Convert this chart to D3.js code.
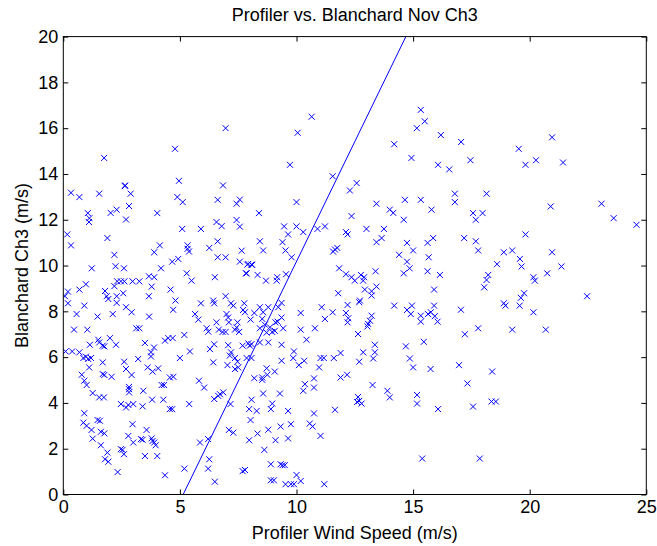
<!DOCTYPE html>
<html>
<head>
<meta charset="utf-8">
<script src="https://cdn.jsdelivr.net/npm/d3@7"></script>
<style>
  html, body { margin: 0; padding: 0; background: #fff; }
  svg text { font-family: "Liberation Sans", Arial, sans-serif; fill: #000; }
</style>
</head>
<body>
<div id="chart"></div>
<script>
// Profiler vs. Blanchard scatter, Nov Ch3. Values.

const xTicks = [0, 5, 10, 15, 20, 25];
const yTicks = [0, 2, 4, 6, 8, 10, 12, 14, 16, 18, 20];

// straight reference line, endpoints [profiler, blanchard]
const fitLine = [[5.14, 0], [14.69, 20]];

// [profiler wind speed, blanchard ch3]
const upperPts = [
  [1.75,14.7],[2.65,13.5],[4.79,15.1],[4.96,13.7],[6.96,16.0],[6.85,13.5],
  [10.65,16.5],[10.05,15.8],[9.72,14.4],[11.55,13.9],[12.58,13.6],[14.19,15.3],[15.33,16.8],[15.5,16.3],[15.16,16.0],[16.19,15.7],[14.93,14.7],[16.07,14.4],
  [17.06,15.4],[16.55,14.2],[17.46,14.6],[19.53,15.1],[19.82,14.4],[20.27,14.6],[20.96,15.6],[21.43,14.5]
];

const midLeftPts = [
  [0.33,13.18],[0.69,12.99],[1.54,13.14],[2.64,13.47],[2.89,13.14],[2.82,12.6],[2.29,12.44],[2.03,12.3],[1.05,12.29],[1.12,12.07],[1.1,11.9],[2.69,12.01],
  [4.89,12.99],[5.12,12.77],[6.62,12.87],[7.43,12.7],[7.57,12.88],[4.03,12.29],[5.1,11.6],[5.9,11.6],[6.57,11.9],[6.79,11.72],[7.43,11.99],[7.57,11.7],
  [0.17,11.36],[0.33,10.88],[1.89,11.2],[2.19,10.47],[2.24,9.97],[2.6,9.88],[1.22,9.88],[4.14,10.88],[3.9,10.58],[4.19,9.88],[4.67,10.17],[4.93,10.29],
  [5.33,10.88],[5.39,10.61],[5.33,10.73],[6.26,10.77],[6.62,11.06],[6.62,10.36],[6.96,10.36],[7.65,10.65],[7.57,10.17],[7.89,10.04],[8.07,10.04],[7.83,9.66],
  [5.29,9.66],[5.5,9.34],[6.5,9.49],[0.97,9.18],[0.69,8.95],[0.2,8.86],[0.07,8.66],[0.2,8.35],[0.57,7.88],[0.9,8.25],[1.47,7.77],[1.79,8.89],[2.19,9.1],
  [2.31,9.31],[2.47,9.31],[2.62,9.31],[2.97,9.31],[3.26,9.31],[3.67,9.53],[3.9,9.49],[3.79,9.08],[2.57,8.79],[1.86,8.66],[1.93,8.54],[2.29,8.66],[2.29,8.37],
  [2.69,8.18],[2.93,7.96],[2.12,7.88],[3.67,8.66],[4.6,8.95],[4.81,8.47],[4.71,8.07],[3.68,7.77],[5.9,8.35],[6.43,8.47],[6.47,8.35],[6.96,8.66],[7.19,8.35],
  [7.29,8.25],[7.76,8.35],[7.71,8.06],[7.79,7.96],[8.19,7.93],[5.65,7.88],[5.79,7.64],[7.0,7.88],[7.07,7.73],[7.1,7.52],[8.03,7.64],[6.57,7.52],[7.47,7.52],
  [7.43,7.3],[0.46,7.2],[1.03,7.2],[3.13,7.26],[3.26,7.26],[6.15,7.26],[6.22,7.11],[6.67,7.2],[6.83,7.1],[6.96,7.1],[7.36,7.2],[7.54,7.1]
];

const midCenterPts = [
  [12.29,13.28],[10.0,12.77],[8.39,12.29],[12.36,12.16],[13.43,12.7],[14.65,12.87],[15.33,12.87],[14.0,12.44],[14.15,12.3],[14.6,12.0],[15.79,12.44],
  [9.47,11.71],[10.0,11.71],[10.29,11.46],[9.64,11.36],[10.9,11.6],[11.22,11.71],[12.12,11.46],[12.19,11.36],[13.0,11.6],[13.75,11.6],[13.65,11.2],[13.43,11.02],
  [8.43,11.06],[8.57,10.66],[9.4,11.02],[9.53,10.66],[9.79,10.36],[11.57,10.61],[11.75,10.77],[11.65,10.7],[14.74,10.99],[15.0,10.66],[14.4,10.47],[15.62,10.99],
  [15.86,11.2],[15.67,10.36],[14.74,10.17],[14.85,9.88],[14.6,9.66],[15.62,9.75],[16.15,9.59],[15.9,8.95],[7.93,10.07],[8.1,10.03],[7.86,9.66],[8.33,9.59],
  [8.69,9.34],[9.17,9.49],[9.15,9.34],[9.55,9.62],[11.83,9.88],[12.12,9.62],[12.36,9.49],[12.5,9.34],[12.76,9.59],[12.86,9.34],[12.9,9.49],[13.39,9.75],
  [12.93,8.95],[13.43,9.08],[13.22,8.88],[13.22,8.69],[11.79,8.79],[12.72,8.47],[12.69,8.4],
  [8.43,8.18],[8.57,7.96],[8.79,8.18],[8.53,7.67],[8.64,7.42],[8.43,7.26],[8.86,7.3],[9.19,7.55],[9.1,7.52],[9.36,7.73],[9.36,8.37],[9.22,8.18],
  [9.43,7.26],[9.07,7.15],[8.72,7.07],[8.96,7.1],[10.18,7.93],[10.18,7.2],[10.79,7.26],[11.08,8.18],[11.22,7.67],[11.55,7.96],[12.19,8.28],[12.12,7.93],
  [12.22,7.7],[12.19,7.52],[12.64,7.01],[13.07,7.45],[13.15,7.59],[13.22,7.81],[13.04,7.34],[14.19,8.25],[14.74,8.06],[14.95,8.25],[14.9,7.88],[15.33,7.81],
  [15.33,7.55],[15.64,7.88],[15.76,7.96],[15.9,8.25],[16.05,7.55],[15.93,7.79]
];

const rightPts = [
  [16.79,13.14],[16.79,12.77],[18.15,13.14],[17.57,12.29],[17.98,12.29],[17.69,12.0],[20.9,12.58],[23.08,12.7],[23.6,12.07],[24.58,11.78],[17.19,11.2],[17.69,11.06],
  [17.79,10.66],[18.89,10.58],[19.25,10.66],[19.82,11.36],[20.96,10.58],[19.58,10.29],[19.65,9.96],[18.6,10.06],[21.36,9.96],[20.75,9.66],[20.16,9.49],[20.22,9.34],
  [18.22,9.59],[18.15,9.37],[18.05,9.05],[19.76,8.79],[19.62,8.59],[22.46,8.66],[18.89,8.35],[18.96,8.25],[19.57,8.25],[17.05,8.07],[20.16,7.96],[17.22,7.0],
  [17.79,7.26],[19.25,7.2],[20.69,7.2],
  [16.97,5.65],[18.39,5.37],[17.33,4.85],[16.07,3.73],[17.57,3.84],[18.36,4.06],[18.55,4.06],[17.86,1.57]
];

const lowCenterPts = [
  [10.43,6.76],[13.36,6.54],[13.36,6.21],[13.29,5.94],[12.86,6.21],[12.69,5.8],[11.89,6.18],[11.6,5.96],[11.17,5.96],[11.03,5.96],[10.97,5.55],[10.33,5.84],
  [10.1,5.65],[9.86,5.96],[9.89,6.25],[9.36,6.54],[9.36,5.84],[8.79,6.64],[8.43,6.64],[8.07,6.57],[7.93,6.6],[8.0,6.5],[8.07,5.96],[7.86,5.96],[14.69,6.47],
  [15.46,6.67],[14.86,5.94],[15.0,5.55],[15.75,5.48],[11.89,5.11],[12.17,5.23],[10.75,5.07],[10.36,4.82],[10.29,4.53],[10.75,4.67],[9.07,5.37],[8.72,5.51],
  [8.75,5.23],[8.53,5.11],[8.53,5.01],[8.19,5.08],[8.57,4.41],[9.29,4.41],[8.07,4.14],[8.96,3.97],[8.9,3.73],[7.97,3.73],[8.29,3.65],[9.64,3.65],[8.03,3.25],
  [10.75,3.54],[11.65,3.7],[13.26,4.78],[13.9,4.53],[14.0,4.24],[12.64,4.26],[12.69,4.09],[12.79,3.97],[12.6,4.04],[15.17,4.35],[15.17,3.97],[15.39,1.57],
  [9.76,3.07],[9.32,2.97],[10.57,3.1],[10.69,2.97],[8.33,2.66],[8.79,2.83],[7.97,2.37],[9.1,2.37],[9.64,2.45],[11.03,2.56],[8.62,1.95],[8.9,1.32],[9.32,1.32],
  [9.4,1.28],[9.5,1.28],[7.79,1.07],[10.0,0.85],[8.9,0.62],[9.03,0.62],[9.53,0.45],[9.76,0.45],[9.89,0.45],[10.18,0.59],[11.19,0.45]
];

const lowLeftPts = [
  [0.1,6.25],[0.38,6.25],[0.69,6.21],[0.86,5.96],[0.97,6.02],[1.07,5.92],[1.19,5.96],[1.14,6.54],[1.5,6.76],[1.54,6.64],[1.69,6.5],[1.76,6.47],[2.0,6.83],[2.26,6.54],
  [1.11,5.55],[1.69,5.77],[1.69,5.26],[1.76,5.22],[2.07,5.14],[0.79,5.23],[0.9,4.97],[1.0,4.78],[1.26,4.43],[1.54,4.24],[1.74,4.24],[2.61,5.8],[2.69,5.48],
  [2.93,5.22],[2.82,4.7],[2.82,4.6],[2.82,4.46],[3.21,5.92],[3.5,6.62],[3.89,6.42],[3.76,6.21],[3.76,6.03],[3.62,5.55],[3.83,5.37],[4.07,5.51],[4.36,6.72],
  [4.5,6.83],[4.69,6.83],[5.19,6.97],[5.0,5.96],[5.43,6.25],[3.43,4.53],[3.81,4.14],[4.22,4.78],[4.32,4.78],[4.57,5.11],[4.72,5.14],[4.29,4.14],[4.57,3.73],
  [4.67,3.73],[2.47,3.95],[2.69,3.8],[2.79,3.91],[3.0,3.95],[3.4,3.85],[5.4,3.95],[5.82,4.97],[6.04,4.67],[0.9,3.55],[0.86,3.14],[1.0,3.0],[1.21,2.82],
  [1.47,3.25],[1.57,3.22],[1.61,2.74],[1.76,2.67],[1.26,2.44],[1.61,2.15],[1.89,1.83],[1.79,1.54],[1.93,1.43],[2.33,0.98],[2.47,1.98],[2.54,1.95],[2.6,1.76],
  [2.97,3.07],[2.79,2.56],[3.0,2.27],[3.33,2.42],[3.4,2.39],[3.57,2.82],[3.79,2.45],[3.83,2.34],[3.9,2.27],[3.96,2.15],[3.5,1.68],[4.03,1.68],[4.36,0.84],
  [5.19,1.13],[5.86,2.27],[6.21,2.42],[6.26,1.54],[6.21,1.13],[6.5,0.56],[6.43,5.77],[6.29,6.35],[6.47,6.56],[7.19,6.21],[7.07,6.52],[7.14,6.07],[7.36,5.96],
  [7.47,5.8],[7.04,5.65],[7.36,5.48],[7.5,5.55],[7.69,6.5],[6.47,4.17],[6.64,4.31],[6.72,4.38],[6.86,4.46],[7.17,3.95],[7.1,2.82],[7.29,2.7],[7.69,1.02]
];

const points = [].concat(upperPts, midLeftPts, midCenterPts, rightPts, lowCenterPts, lowLeftPts);

const W = 657, H = 546;
const margin = { top: 36.6, right: 10.7, bottom: 51.5, left: 63.3 };
const blue = "#0000ff";

const svg = d3.select("#chart").append("svg")
  .attr("width", W).attr("height", H);

svg.append("rect").attr("width", W).attr("height", H).attr("fill", "#fff");

const x = d3.scaleLinear().domain([0, 25]).range([margin.left, W - margin.right]);
const y = d3.scaleLinear().domain([0, 20]).range([H - margin.bottom, margin.top]);

const clipId = "plotclip";
svg.append("clipPath").attr("id", clipId).append("rect")
  .attr("x", x(0)).attr("y", y(20)).attr("width", x(25) - x(0)).attr("height", y(0) - y(20));

// axes, ticks pointing inward like matlab
const tk = 5;
const fs = 18;
const gx = svg.append("g").attr("transform", `translate(0,${y(0)})`)
  .call(d3.axisBottom(x).tickValues(xTicks).tickSize(-tk).tickPadding(6));
const gxTop = svg.append("g").attr("transform", `translate(0,${y(20)})`)
  .call(d3.axisTop(x).tickValues(xTicks).tickSize(-tk).tickFormat(""));
const gy = svg.append("g").attr("transform", `translate(${x(0)},0)`)
  .call(d3.axisLeft(y).tickValues(yTicks).tickSize(-tk).tickPadding(5));
const gyRight = svg.append("g").attr("transform", `translate(${x(25)},0)`)
  .call(d3.axisRight(y).tickValues(yTicks).tickSize(-tk).tickFormat(""));

[gx, gxTop, gy, gyRight].forEach(g => {
  g.select(".domain").remove();
  g.selectAll(".tick line").attr("stroke", "#000").attr("stroke-width", 1);
  g.selectAll(".tick text").attr("font-size", fs).attr("font-family", "Liberation Sans, Arial, sans-serif");
});

// data first, then frame on top
const gDots = svg.append("g").attr("clip-path", `url(#${clipId})`);
const s = 3;
gDots.selectAll("path").data(points).join("path")
  .attr("d", d => {
    const cx = x(d[0]), cy = y(d[1]);
    return `M${cx - s},${cy - s}L${cx + s},${cy + s}M${cx - s},${cy + s}L${cx + s},${cy - s}`;
  })
  .attr("stroke", blue).attr("stroke-width", 1).attr("fill", "none");

gDots.append("path")
  .datum(fitLine)
  .attr("d", d3.line().x(d => x(d[0])).y(d => y(d[1])))
  .attr("stroke", blue).attr("stroke-width", 1).attr("fill", "none");

svg.append("rect")
  .attr("x", x(0)).attr("y", y(20))
  .attr("width", x(25) - x(0)).attr("height", y(0) - y(20))
  .attr("fill", "none").attr("stroke", "#000").attr("stroke-width", 1);

svg.append("text")
  .attr("x", (x(0) + x(25)) / 2).attr("y", 21)
  .attr("text-anchor", "middle").attr("font-size", fs)
  .text("Profiler vs. Blanchard Nov Ch3");

svg.append("text")
  .attr("x", (x(0) + x(25)) / 2).attr("y", 539)
  .attr("text-anchor", "middle").attr("font-size", fs)
  .text("Profiler Wind Speed (m/s)");

svg.append("text")
  .attr("transform", `translate(28,${(y(0) + y(20)) / 2}) rotate(-90)`)
  .attr("text-anchor", "middle").attr("font-size", fs)
  .text("Blanchard Ch3 (m/s)");
</script>
</body>
</html>
